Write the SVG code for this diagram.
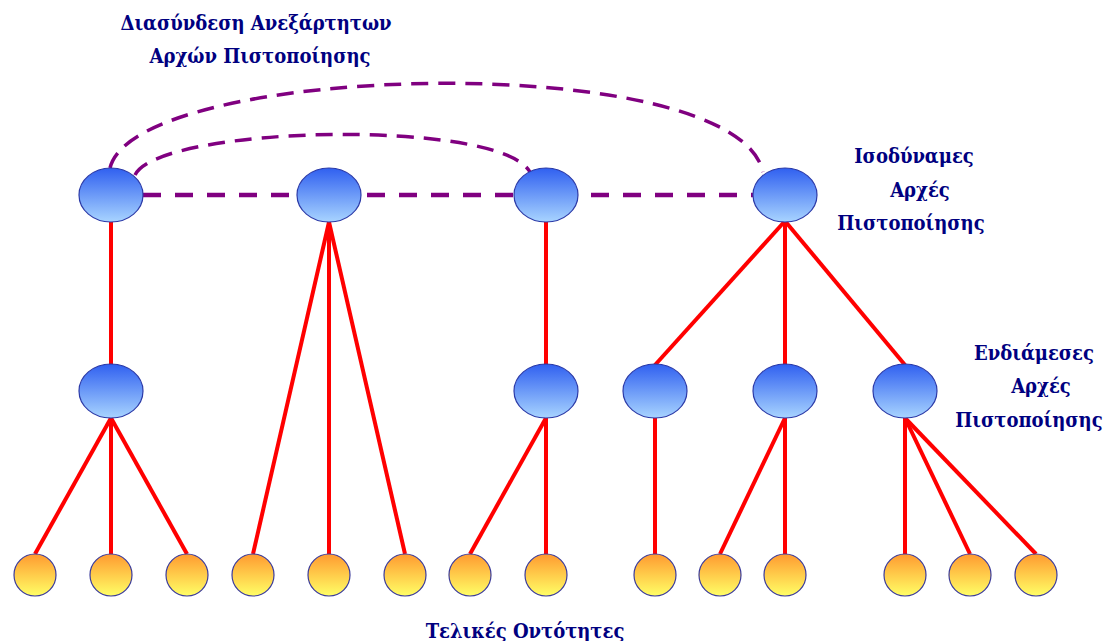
<svg xmlns="http://www.w3.org/2000/svg" width="1105" height="641" viewBox="0 0 1105 641">
<style>
.lbl{font-family:"DejaVu Serif","Liberation Serif",serif;font-stretch:condensed;font-weight:bold;font-size:20px;fill:#000080;text-anchor:middle}
.red{stroke:#ff0000;stroke-width:4;fill:none}
.dash{stroke:#800080;stroke-width:4.5;fill:none;stroke-dasharray:18 14}
.arc{stroke:#800080;stroke-width:3.5;fill:none;stroke-dasharray:17 10}
.ca{fill:url(#gBlue);stroke:#2b3aa8;stroke-width:1.2}
.ent{fill:url(#gOrange);stroke:#3a3a9a;stroke-width:1.2}
</style>
<defs>
<linearGradient id="gBlue" x1="0" y1="0" x2="0" y2="1">
<stop offset="0" stop-color="#3060f0"/>
<stop offset="1" stop-color="#a8d4ff"/>
</linearGradient>
<linearGradient id="gOrange" x1="0" y1="0" x2="0" y2="1">
<stop offset="0" stop-color="#ff9a30"/>
<stop offset="1" stop-color="#ffff66"/>
</linearGradient>
</defs>
<rect width="1105" height="641" fill="#ffffff"/>
<g id="connectors">
<path class="arc" d="M110,168 C135,62 735,47 763,172"/>
<path class="arc" d="M135,175 C160,125 500,118 530,172"/>
<line class="dash" x1="143" y1="195" x2="753" y2="195"/>
<line class="red" x1="111" y1="222" x2="111" y2="365"/>
<line class="red" x1="111" y1="418" x2="35" y2="554"/>
<line class="red" x1="111" y1="418" x2="111" y2="554"/>
<line class="red" x1="111" y1="418" x2="187" y2="554"/>
<line class="red" x1="329" y1="222" x2="253" y2="554"/>
<line class="red" x1="329" y1="222" x2="329" y2="554"/>
<line class="red" x1="329" y1="222" x2="405" y2="554"/>
<line class="red" x1="546" y1="222" x2="546" y2="365"/>
<line class="red" x1="546" y1="418" x2="470" y2="554"/>
<line class="red" x1="546" y1="418" x2="546" y2="554"/>
<line class="red" x1="785" y1="221" x2="655" y2="365"/>
<line class="red" x1="785" y1="221" x2="785" y2="365"/>
<line class="red" x1="785" y1="221" x2="905" y2="365"/>
<line class="red" x1="655" y1="418" x2="655" y2="554"/>
<line class="red" x1="785" y1="418" x2="720" y2="554"/>
<line class="red" x1="785" y1="418" x2="785" y2="554"/>
<line class="red" x1="905" y1="418" x2="905" y2="554"/>
<line class="red" x1="905" y1="418" x2="970" y2="554"/>
<line class="red" x1="905" y1="418" x2="1036" y2="554"/>
</g>
<g id="top1"><ellipse class="ca" cx="111" cy="195" rx="32" ry="27"/></g>
<g id="top2"><ellipse class="ca" cx="329" cy="195" rx="32" ry="27"/></g>
<g id="top3"><ellipse class="ca" cx="546" cy="195" rx="32" ry="27"/></g>
<g id="top4"><ellipse class="ca" cx="785" cy="195" rx="32" ry="27"/></g>
<g id="mid1"><ellipse class="ca" cx="111" cy="391" rx="32" ry="27"/></g>
<g id="mid2"><ellipse class="ca" cx="546" cy="391" rx="32" ry="27"/></g>
<g id="mid3"><ellipse class="ca" cx="655" cy="391" rx="32" ry="27"/></g>
<g id="mid4"><ellipse class="ca" cx="785" cy="391" rx="32" ry="27"/></g>
<g id="mid5"><ellipse class="ca" cx="905" cy="391" rx="32" ry="27"/></g>
<g id="e1"><circle class="ent" cx="35" cy="575" r="21"/></g>
<g id="e2"><circle class="ent" cx="111" cy="575" r="21"/></g>
<g id="e3"><circle class="ent" cx="187" cy="575" r="21"/></g>
<g id="e4"><circle class="ent" cx="253" cy="575" r="21"/></g>
<g id="e5"><circle class="ent" cx="329" cy="575" r="21"/></g>
<g id="e6"><circle class="ent" cx="405" cy="575" r="21"/></g>
<g id="e7"><circle class="ent" cx="470" cy="575" r="21"/></g>
<g id="e8"><circle class="ent" cx="546" cy="575" r="21"/></g>
<g id="e9"><circle class="ent" cx="655" cy="575" r="21"/></g>
<g id="e10"><circle class="ent" cx="720" cy="575" r="21"/></g>
<g id="e11"><circle class="ent" cx="785" cy="575" r="21"/></g>
<g id="e12"><circle class="ent" cx="905" cy="575" r="21"/></g>
<g id="e13"><circle class="ent" cx="970" cy="575" r="21"/></g>
<g id="e14"><circle class="ent" cx="1036" cy="575" r="21"/></g>
<g id="labels">
<text class="lbl" x="256" y="30">Διασύνδεση Ανεξάρτητων</text>
<text class="lbl" x="260" y="63">Αρχών Πιστοποίησης</text>
<text class="lbl" x="914" y="163">Ισοδύναμες</text>
<text class="lbl" x="920" y="197">Αρχές</text>
<text class="lbl" x="911" y="230">Πιστοποίησης</text>
<text class="lbl" x="1034" y="360">Ενδιάμεσες</text>
<text class="lbl" x="1041" y="393">Αρχές</text>
<text class="lbl" x="1029" y="427">Πιστοποίησης</text>
<text class="lbl" x="525" y="638">Τελικές Οντότητες</text>
</g>
</svg>
